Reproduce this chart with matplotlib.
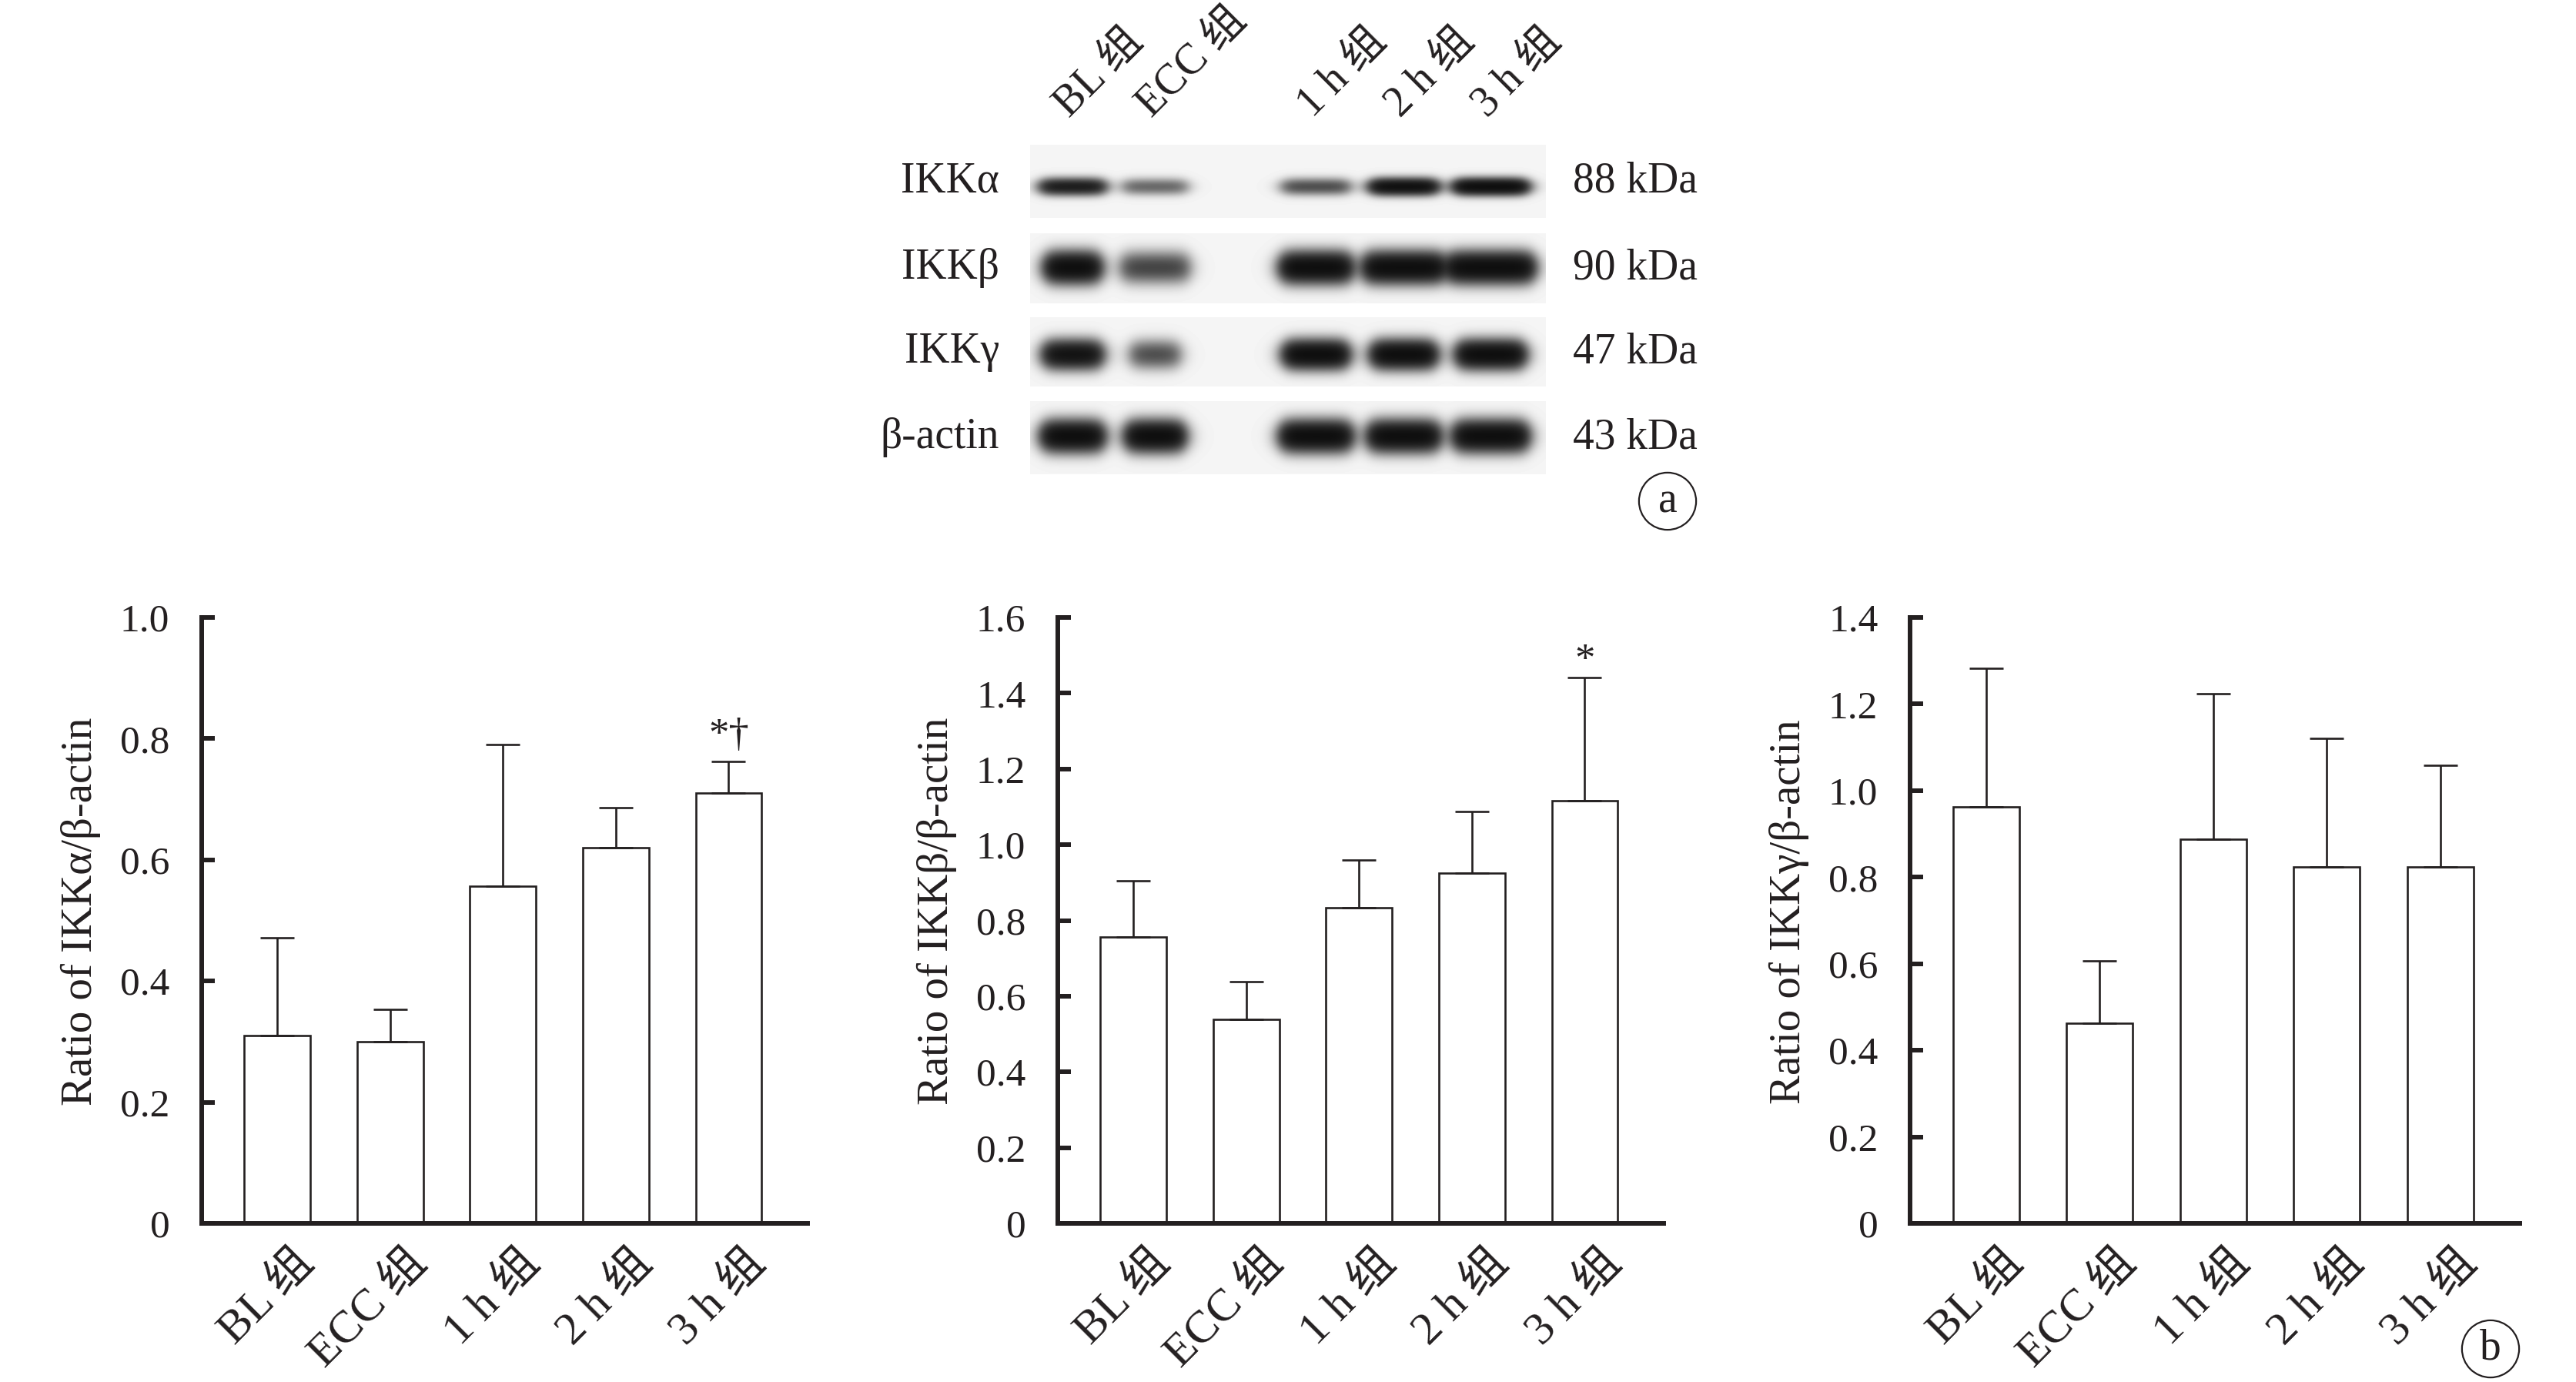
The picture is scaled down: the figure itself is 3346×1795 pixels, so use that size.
import numpy as np
import matplotlib
matplotlib.use("Agg")
import matplotlib.pyplot as plt
from matplotlib.transforms import ScaledTranslation

plt.rcParams['font.family'] = ['Liberation Serif', 'Noto Sans CJK SC']
plt.rcParams['axes.unicode_minus'] = False

INK = '#231f20'

# ---- data ----
groups = ['BL 组', 'ECC 组', '1 h 组', '2 h 组', '3 h 组']

ikka_mean = [0.310, 0.300, 0.556, 0.620, 0.710]
ikka_sd = [0.161, 0.053, 0.234, 0.066, 0.052]
ikkb_mean = [0.757, 0.539, 0.834, 0.926, 1.116]
ikkb_sd = [0.147, 0.100, 0.125, 0.162, 0.325]
ikkg_mean = [0.962, 0.462, 0.887, 0.823, 0.823]
ikkg_sd = [0.320, 0.144, 0.336, 0.298, 0.236]

# western blot: band darkness per lane (0..1)
blot_rows = ['IKKα', 'IKKβ', 'IKKγ', 'β-actin']
blot_kda = ['88 kDa', '90 kDa', '47 kDa', '43 kDa']
band_alpha = [0.75, 0.30, 0.40, 0.95, 1.00]
band_beta = [1.00, 0.45, 1.00, 1.00, 1.00]
band_gamma = [0.90, 0.40, 1.00, 1.00, 1.00]
band_actin = [1.00, 1.00, 1.00, 1.00, 1.00]

W, H = 3346, 1795
fig = plt.figure(figsize=(W / 100, H / 100), dpi=100)


def fx(x):
    return x / W


def fy(y):
    return 1 - y / H


# #############################################################################
# BLOT (panel a)
lane_x = [55, 162, 371, 485, 598]          # lane centres inside strip (px)
strip_tops = [188, 303, 412, 521]
strip_h = [95, 91, 90, 95]
band_cy = [54, 44, 48, 45]                 # band centre from strip top
band_sig = [7, 13, 12, 13]
band_hw = [[40, 40, 42, 42, 46], [34, 42, 44, 50, 54],
           [36, 30, 40, 40, 42], [38, 36, 44, 44, 46]]
bands = [band_alpha, band_beta, band_gamma, band_actin]
strip_left, strip_w = 1338, 670

for r in range(4):
    ax = fig.add_axes([fx(strip_left), fy(strip_tops[r] + strip_h[r]),
                       strip_w / W, strip_h[r] / H])
    xx = np.arange(strip_w)[None, :]
    yy = np.arange(strip_h[r])[:, None]
    dens = np.zeros((strip_h[r], strip_w))
    for k in range(5):
        px = 1 / (1 + np.exp((np.abs(xx - lane_x[k]) - band_hw[r][k]) / 6.0))
        py = np.exp(-0.5 * ((yy - band_cy[r]) / band_sig[r]) ** 2)
        dens += bands[r][k] * px * py
    img = 0.96 * np.exp(-2.8 * dens)
    ax.imshow(img, cmap='gray', vmin=0, vmax=1, aspect='auto',
              interpolation='bilinear')
    ax.axis('off')
    cy = strip_tops[r] + strip_h[r] / 2
    fig.text(fx(1298), fy(cy), blot_rows[r], ha='right', va='center',
             fontsize=40, color=INK)
    fig.text(fx(2043), fy(cy), blot_kda[r], ha='left', va='center',
             fontsize=40, color=INK)

for k in range(5):
    fig.text(fx(strip_left + lane_x[k] - 4), fy(154), groups[k], rotation=45,
             rotation_mode='anchor', ha='left', va='baseline',
             fontsize=40, color=INK)

fig.text(fx(2166), fy(651), 'a', ha='center', va='center', fontsize=40,
         color=INK, bbox=dict(boxstyle='circle,pad=0.2', fc='none',
                              ec=INK, lw=1.6))

# #############################################################################
# BAR CHARTS (panel b)
panels = [
    (262, 787, ikka_mean, ikka_sd, 1.0, 'Ratio of IKKα/β-actin', '*†', 0.012),
    (1374, 787, ikkb_mean, ikkb_sd, 1.6, 'Ratio of IKKβ/β-actin', '*', -0.004),
    (2481, 792, ikkg_mean, ikkg_sd, 1.4, 'Ratio of IKKγ/β-actin', '', 0),
]
top_px, bot_px = 802, 1589
x = np.arange(len(groups))

for left, width, mean, sd, ymax, ylab, mark, moff in panels:
    ax = fig.add_axes([fx(left), fy(bot_px), width / W, (bot_px - top_px) / H])
    ax.bar(x, mean, width=0.585, color='white', edgecolor=INK, linewidth=1.9,
           zorder=2)
    ax.errorbar(x, mean, yerr=[np.zeros(len(sd)), sd], fmt='none',
                ecolor=INK, elinewidth=1.9, capsize=16, capthick=1.9, zorder=3)
    ax.set_xlim(-0.67, 4.70)
    ax.set_ylim(0, ymax)
    yt = np.round(np.arange(0, ymax + 1e-9, 0.2), 1)
    ax.set_yticks(yt)
    ax.set_yticklabels(['0'] + ['%.1f' % v for v in yt[1:]])
    ax.set_xticks(x)
    ax.set_xticklabels([])
    # rotated group labels, shifted right of the tick like the original
    off = ScaledTranslation(0.21, -0.25, fig.dpi_scale_trans)
    for i, g in enumerate(groups):
        ax.text(i, 0, g, transform=ax.get_xaxis_transform() + off,
                rotation=45, rotation_mode='anchor', ha='right', va='top',
                fontsize=43, color=INK)
    for s in ['top', 'right']:
        ax.spines[s].set_visible(False)
    for s in ['left', 'bottom']:
        ax.spines[s].set_linewidth(4.3)
        ax.spines[s].set_color(INK)
    ax.tick_params(axis='y', direction='in', length=12, width=4.3,
                   labelsize=37, pad=30, colors=INK)
    ax.tick_params(axis='x', direction='in', length=13, width=4.3,
                   colors=INK)
    ax.set_ylabel(ylab, fontsize=41, color=INK, labelpad=18)
    ax.yaxis.label.set_y(0.515)
    if mark:
        ax.text(4, mean[4] + sd[4] + moff * ymax, mark, ha='center',
                va='bottom', fontsize=38, color=INK)

fig.text(fx(3235), fy(1752), 'b', ha='center', va='center', fontsize=40,
         color=INK, bbox=dict(boxstyle='circle,pad=0.2', fc='none',
                              ec=INK, lw=1.6))

fig.savefig('out.png', dpi=100, facecolor='white')
